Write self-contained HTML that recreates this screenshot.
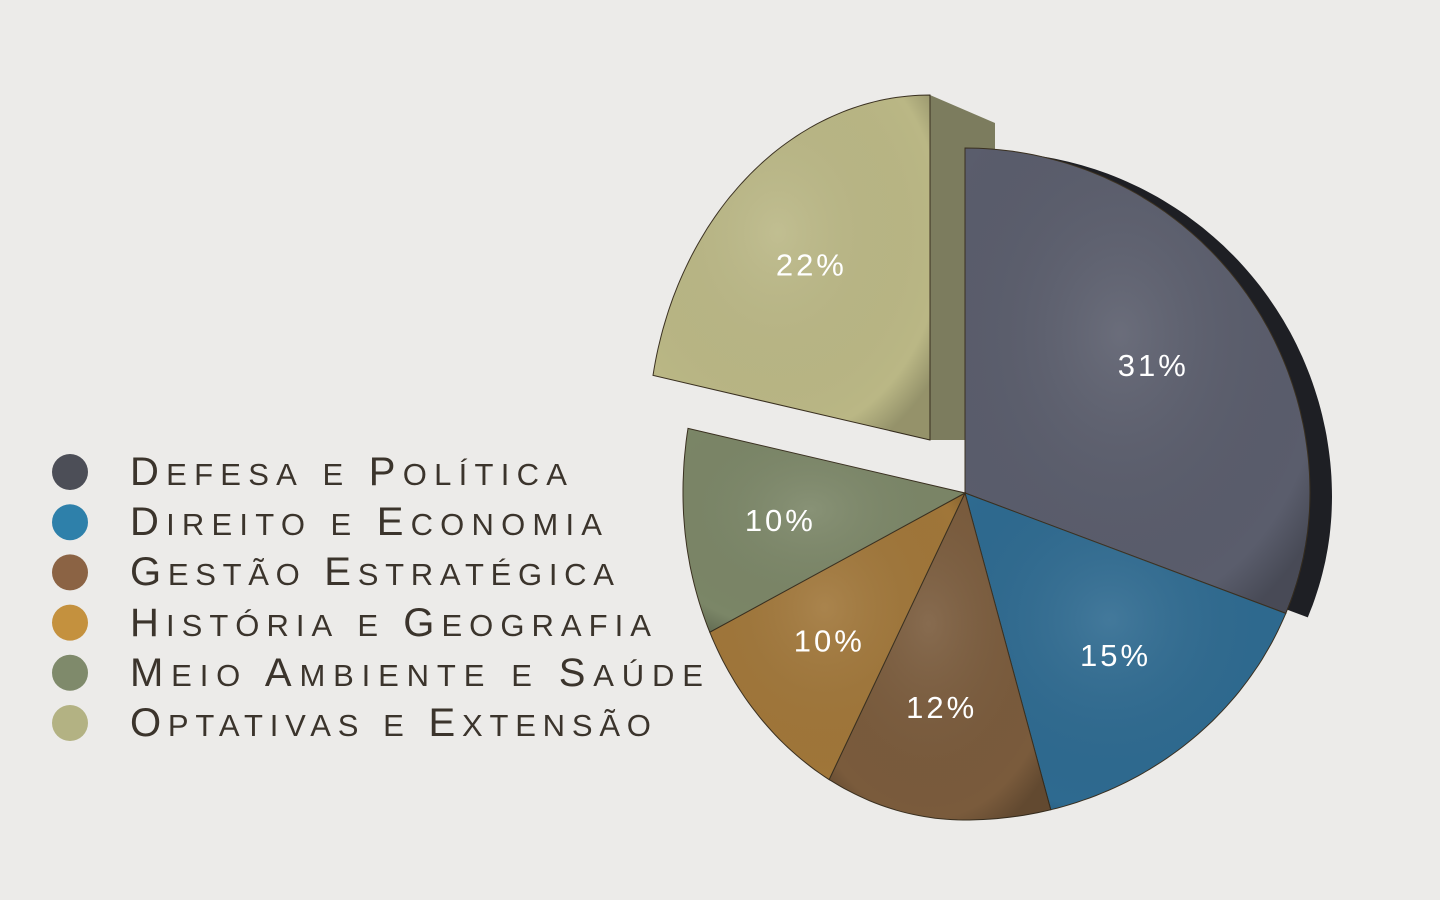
<!DOCTYPE html>
<html><head><meta charset="utf-8">
<style>
html,body{margin:0;padding:0;background:#ecebe9;}
body{width:1440px;height:900px;overflow:hidden;position:relative;font-family:"Liberation Sans",sans-serif;}
svg{position:absolute;left:0;top:0;}
.lg{position:absolute;left:130px;height:40px;line-height:40px;font-size:40px;color:#3b342c;white-space:nowrap;font-family:"Liberation Sans",sans-serif;}
.lg .s{font-size:31px;text-transform:uppercase;}
</style></head>
<body>
<svg id="chart" width="1440" height="900" viewBox="0 0 1440 900">
<defs>
<radialGradient id="shade" cx="0.45" cy="0.4" r="0.7">
<stop offset="0" stop-color="#fff" stop-opacity="0.10"/>
<stop offset="0.85" stop-color="#000" stop-opacity="0"/>
<stop offset="1" stop-color="#000" stop-opacity="0.2"/>
</radialGradient>
</defs>
<g id="depths"></g>
<g id="slices"></g>
<g id="legend"></g>
</svg>
<div id="legendHtml"></div>
<script>
const categories = ["Defesa e Política","Direito e Economia","Gestão Estratégica","História e Geografia","Meio Ambiente e Saúde","Optativas e Extensão"];
const values = [31,15,12,10,10,22];
const labels = ["31%","15%","12%","10%","10%","22%"];
const sliceColors = ["#5a5d6c","#2e6a90","#7a5b3c","#a07639","#7b8667","#bab785"];
const legendColors = ["#4c4e57","#2e80aa","#8b6344","#c4913e","#7f8a6b","#b3b283"];
const exploded = [false,false,false,false,false,true];

const NS="http://www.w3.org/2000/svg";
const cx=965, cy=493;
const RR=345, RL=282, RT=345, RB=327;
const total=values.reduce((a,b)=>a+b,0);
const gS=document.getElementById('slices');
const gD=document.getElementById('depths');
function pt(a,f,ox,oy){const s=Math.sin(a),c=Math.cos(a);
  return [ox+f*(s>0?RR:RL)*s, oy-f*(c>0?RT:RB)*c];}
function slicePath(a0,a1,ox,oy){
  let d=`M${ox},${oy}`;
  const n=Math.max(4,Math.ceil((a1-a0)/0.02));
  for(let k=0;k<=n;k++){const p=pt(a0+(a1-a0)*k/n,1,ox,oy);d+=` L${p[0].toFixed(1)},${p[1].toFixed(1)}`;}
  return d+' Z';
}
let acc=0;
const angles=values.map(v=>{const a0=acc/total*2*Math.PI; acc+=v; return [a0, acc/total*2*Math.PI];});
const side=document.createElementNS(NS,'path');
side.setAttribute('d',slicePath(angles[0][0],angles[0][1],cx+22,cy+4));
side.setAttribute('fill','#1e1f24');


gD.appendChild(side);
values.forEach((v,i)=>{
  const [a0,a1]=angles[i];
  const mid=(a0+a1)/2;
  let ox=cx, oy=cy;
  if(exploded[i]){ox-=35; oy-=53;
    const d=document.createElementNS(NS,'path');
    d.setAttribute('d',`M${ox},${oy-RT} L${ox+65},${oy-RT+28} L${ox+65},${oy} L${ox},${oy} Z`);
    d.setAttribute('fill','#7c7c5e');
    
    
    gD.appendChild(d);
  }
  const p=document.createElementNS(NS,'path');
  p.setAttribute('d',slicePath(a0,a1,ox,oy));
  p.setAttribute('fill',sliceColors[i]);
  p.setAttribute('stroke','#3a3020');p.setAttribute('stroke-width','1');
  
  
  gS.appendChild(p);
  const s=document.createElementNS(NS,'path');
  s.setAttribute('d',slicePath(a0,a1,ox,oy));
  s.setAttribute('fill','url(#shade)');
  
  
  gS.appendChild(s);
  const lp=pt(mid,0.66,ox,oy);
  const t=document.createElementNS(NS,'text');
  t.setAttribute('x',lp[0]);t.setAttribute('y',lp[1]+11);
  t.setAttribute('text-anchor','middle');t.setAttribute('fill','#fff');
  t.setAttribute('font-size','31');t.setAttribute('letter-spacing','3');
  t.setAttribute('font-family','Liberation Sans, sans-serif');
  t.textContent=labels[i];
  
  
  gS.appendChild(t);
});
const legendWidths=[437,472,484,521,573,521];
const gL=document.getElementById('legend');
const lh=document.getElementById('legendHtml');
categories.forEach((c,i)=>{
  const y=472+i*50.2;
  const ci=document.createElementNS(NS,'circle');
  ci.setAttribute('cx',70);ci.setAttribute('cy',y);ci.setAttribute('r',18);
  ci.setAttribute('fill',legendColors[i]);
  
  
  gL.appendChild(ci);
  const div=document.createElement('div');
  div.className='lg';
  
  
  div.style.top=(y-20)+'px';
  let html='';
  for(const ch of c){
    if(ch===' ') html+=' ';
    else if(ch===ch.toUpperCase()) html+=ch;
    else html+='<span class="s">'+ch+'</span>';
  }
  div.innerHTML=html;
  lh.appendChild(div);
  const w=div.getBoundingClientRect().width;
  const n=c.length;
  div.style.letterSpacing=((legendWidths[i]-w)/(n-1))+'px';
});
</script>
</body></html>
